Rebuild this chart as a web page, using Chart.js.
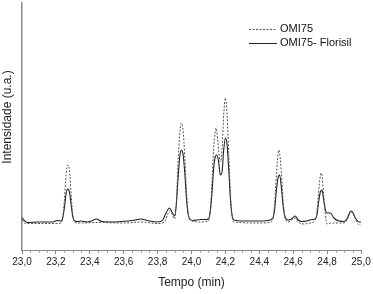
<!DOCTYPE html>
<html>
<head>
<meta charset="utf-8">
<script src="https://cdn.jsdelivr.net/npm/chart.js@4"></script>
<style>
  html, body { margin: 0; padding: 0; background: #fff; }
</style>
</head>
<body>
<canvas id="chroma" width="373" height="294"></canvas>
<script>
// OMI75 (dashed)
const omiTime = [23.00, 23.02, 23.20, 23.23, 23.24, 23.25, 23.26, 23.27, 23.28, 23.29, 23.30, 23.31, 23.33, 23.45, 23.60, 23.70, 23.80, 23.84, 23.86, 23.87, 23.885, 23.90, 23.91, 23.92, 23.93, 23.94, 23.95, 23.96, 23.97, 23.98, 23.99, 24.05, 24.10, 24.11, 24.12, 24.13, 24.14, 24.145, 24.15, 24.16, 24.17, 24.18, 24.19, 24.20, 24.21, 24.22, 24.23, 24.24, 24.25, 24.40, 24.46, 24.48, 24.49, 24.50, 24.51, 24.515, 24.52, 24.53, 24.54, 24.55, 24.57, 24.61, 24.63, 24.66, 24.70, 24.73, 24.74, 24.75, 24.76, 24.765, 24.77, 24.78, 24.79, 24.80, 24.82, 24.85, 24.90, 24.92, 24.94, 24.95, 24.97, 24.99, 25.00];
const omiValues = [30, 26.5, 26.5, 27, 32, 50, 75, 85, 80, 55, 35, 28, 27, 27.5, 27, 28, 26.5, 28, 36, 39, 36, 31, 45, 85, 115, 127, 120, 95, 60, 38, 30, 28, 29, 38, 65, 100, 118, 122, 118, 100, 88, 100, 135, 152, 135, 95, 55, 33, 28, 27, 27.5, 31, 45, 72, 95, 100, 97, 78, 50, 34, 28, 32, 28, 26, 27, 30, 38, 58, 74, 77, 74, 55, 35, 26, 27, 27, 27, 31, 38, 37, 30, 25, 25];

// OMI75- Florisil (solid)
const florTime = [23.00, 23.03, 23.10, 23.18, 23.21, 23.23, 23.24, 23.25, 23.26, 23.27, 23.28, 23.29, 23.30, 23.31, 23.33, 23.35, 23.38, 23.41, 23.44, 23.47, 23.55, 23.62, 23.67, 23.70, 23.74, 23.80, 23.83, 23.85, 23.87, 23.885, 23.90, 23.91, 23.92, 23.93, 23.94, 23.95, 23.96, 23.97, 23.98, 23.99, 24.01, 24.05, 24.08, 24.10, 24.11, 24.12, 24.13, 24.14, 24.15, 24.16, 24.17, 24.18, 24.19, 24.20, 24.21, 24.22, 24.23, 24.24, 24.25, 24.30, 24.40, 24.45, 24.48, 24.49, 24.50, 24.51, 24.52, 24.53, 24.54, 24.55, 24.57, 24.59, 24.61, 24.63, 24.65, 24.68, 24.71, 24.73, 24.74, 24.75, 24.76, 24.77, 24.78, 24.79, 24.80, 24.82, 24.84, 24.87, 24.90, 24.92, 24.94, 24.95, 24.97, 24.99, 25.00];
const florValues = [32, 27.5, 28, 28, 29.5, 29, 32, 42, 56, 61, 58, 45, 33, 29, 28.5, 29, 28, 29, 31, 28.5, 28, 29, 30, 31, 29.5, 28, 30, 37, 42, 38, 34, 45, 70, 92, 100, 96, 78, 52, 36, 31, 29.5, 30.5, 30.5, 31, 38, 55, 80, 93, 95, 88, 75, 78, 100, 112, 105, 80, 50, 34, 30, 29, 29, 29.5, 32, 40, 58, 72, 75, 63, 45, 34, 30, 31, 34, 30, 28.5, 29, 30.5, 31, 35, 48, 58, 60, 50, 40, 37, 37, 32, 29, 28.5, 32, 39, 38, 31, 28, 28];

const seriesNames = ['OMI75', 'OMI75- Florisil'];
const xTitle = 'Tempo (min)';
const yTitle = 'Intensidade (u.a.)';

function pts(t, v) {
  return t.map((x, i) => ({ x: x, y: v[i] }));
}

const fmt = v => v.toFixed(1).replace('.', ',');

// minor ticks, titles and the small legend
const extras = {
  id: 'extras',
  afterDraw(chart) {
    const c = chart.ctx;
    const xs = chart.scales.x;
    const area = chart.chartArea;
    c.save();
    c.strokeStyle = '#8a8a8a';
    c.lineWidth = 1;
    for (let i = 0; i <= 40; i++) {
      if (i % 4 === 0) continue;
      const px = Math.round(xs.getPixelForValue(23 + i * 0.05)) + 0.5;
      c.beginPath();
      c.moveTo(px, area.bottom);
      c.lineTo(px, area.bottom + 2.5);
      c.stroke();
    }

    c.fillStyle = '#222';
    c.font = '12px "Liberation Sans", Arial, sans-serif';
    c.textAlign = 'center';
    c.textBaseline = 'middle';
    c.fillText(xTitle, (area.left + area.right) / 2, 283);

    c.save();
    c.translate(8, 117);
    c.rotate(-Math.PI / 2);
    c.fillText(yTitle, 0, 0);
    c.restore();

    // legend
    c.font = '11px "Liberation Sans", Arial, sans-serif';
    c.textAlign = 'left';
    const rows = [29, 43];
    chart.data.datasets.forEach((ds, i) => {
      const y = rows[i] + 0.5;
      c.strokeStyle = ds.borderColor;
      c.lineWidth = 1;
      c.setLineDash(ds.borderDash || []);
      c.beginPath();
      c.moveTo(249, y);
      c.lineTo(277, y);
      c.stroke();
      c.setLineDash([]);
      c.fillStyle = '#111';
      c.fillText(ds.label, 280, rows[i]);
    });
    c.restore();
  }
};

const ctx = document.getElementById('chroma').getContext('2d');
const chroma = new Chart(ctx, {
  type: 'line',
  data: {
    datasets: [{
      label: seriesNames[0],
      data: pts(omiTime, omiValues),
      borderColor: '#555',
      borderWidth: 1,
      borderDash: [2, 1.5],
      pointRadius: 0,
      cubicInterpolationMode: 'monotone'
    }, {
      label: seriesNames[1],
      data: pts(florTime, florValues),
      borderColor: '#222',
      borderWidth: 1.1,
      pointRadius: 0,
      cubicInterpolationMode: 'monotone'
    }]
  },
  options: {
    responsive: false,
    animation: false,
    layout: { padding: { left: 0, right: 12, top: 3, bottom: 0 } },
    plugins: {
      legend: { display: false },
      tooltip: { enabled: false }
    },
    scales: {
      x: {
        type: 'linear',
        min: 23,
        max: 25,
        ticks: {
          stepSize: 0.2,
          callback: v => fmt(v),
          font: { size: 10, family: '"Liberation Sans", Arial, sans-serif' },
          color: '#222',
          padding: 2,
          maxRotation: 0
        },
        grid: { drawOnChartArea: false, drawTicks: true, tickLength: 4, color: '#8a8a8a' },
        border: { color: '#8a8a8a', width: 1 },
        afterFit(s) { s.height = 44; }
      },
      y: {
        min: 0,
        max: 247,
        ticks: { display: false },
        grid: { display: false },
        border: { display: true, color: '#8a8a8a', width: 1.5 },
        afterFit(s) { s.width = 22; }
      }
    }
  },
  plugins: [extras]
});
</script>
</body>
</html>
